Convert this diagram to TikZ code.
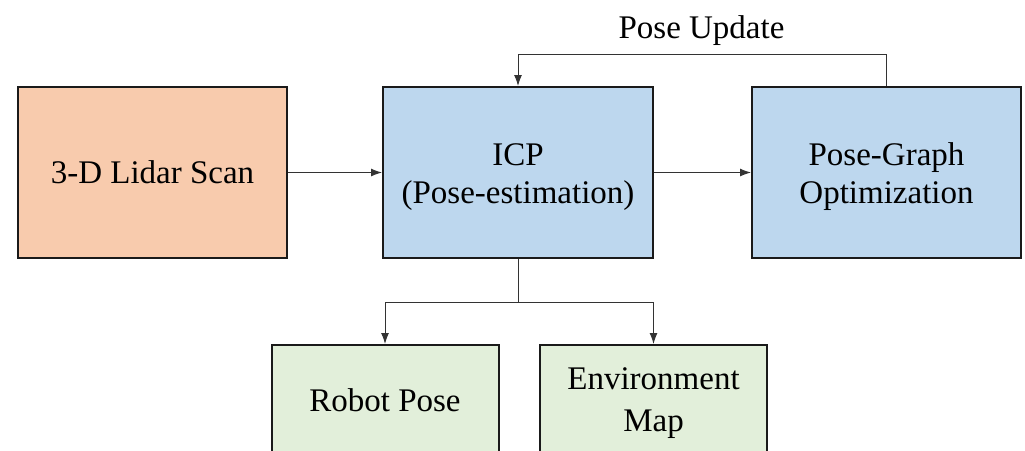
\documentclass[tikz,border=0pt]{standalone}
\usepackage{fontspec}
\setmainfont{Liberation Serif}
\usetikzlibrary{arrows.meta}
\definecolor{orangefill}{HTML}{F8CBAD}
\definecolor{bluefill}{HTML}{BDD7EE}
\definecolor{greenfill}{HTML}{E2EFDA}
\definecolor{edge}{HTML}{1A1A1A}
\definecolor{conn}{HTML}{333333}
\newcommand{\twolinesdown}[4]{\raisebox{-#1}[\height][\depth]{\fontsize{33}{#2}\selectfont\begin{tabular}{@{}c@{}}#3\\#4\end{tabular}}}
\tikzset{
  blockbox/.style={draw=edge, line width=2pt, rectangle, inner sep=0pt, align=center,
    font=\fontsize{33}{41}\selectfont},
  arr/.style={draw=conn, line width=1pt, -{Latex[length=11pt,width=8pt]}},
  plain/.style={draw=conn, line width=1pt},
}
\begin{document}
\begin{tikzpicture}[x=1pt,y=-1pt]
\useasboundingbox (0,0) rectangle (1025,450);
\clip (0,0) rectangle (1025,450);
\node[blockbox, fill=orangefill, minimum width=269pt, minimum height=171pt] (lidar) at (152.5,172.5) {3-D Lidar Scan};
\node[blockbox, fill=bluefill, minimum width=270pt, minimum height=171pt] (icp) at (518,172.5) {\twolinesdown{4pt}{38}{ICP}{(Pose-estimation)}};
\node[blockbox, fill=bluefill, minimum width=269pt, minimum height=171pt] (pg) at (886.5,172.5) {\twolinesdown{4pt}{38}{Pose-Graph}{Optimization}};
\node[blockbox, fill=greenfill, minimum width=227pt, minimum height=110pt] (robot) at (385,400) {Robot Pose};
\node[blockbox, fill=greenfill, minimum width=227pt, minimum height=110pt] (env) at (653.5,400) {\twolinesdown{2pt}{42}{Environment}{Map}};
\node[font=\fontsize{33}{38}\selectfont, anchor=base, inner sep=0pt] (upd) at (701.5,38) {Pose Update};
\coordinate (split) at (518,302);
\draw[arr] (lidar.east) -- (icp.west);
\draw[arr] (icp.east) -- (pg.west);
\draw[arr] (pg.north) -- ++(0,-32) -| (icp.north);
\draw[plain] (icp.south) -- (split);
\draw[arr] (split) -| (robot.north);
\draw[arr] (split) -| (env.north);
\end{tikzpicture}
\end{document}
